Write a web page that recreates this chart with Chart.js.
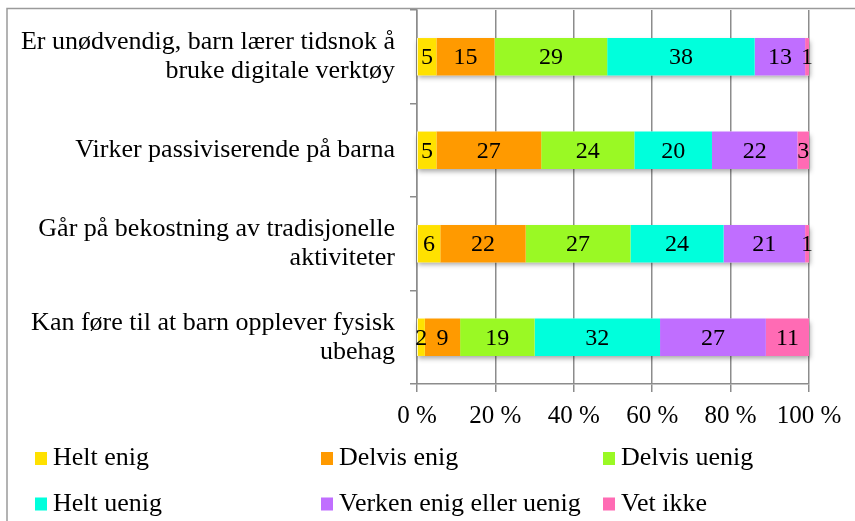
<!DOCTYPE html>
<html>
<head>
<meta charset="utf-8">
<script src="https://cdn.jsdelivr.net/npm/chart.js@4"></script>
<style>
html,body{margin:0;padding:0;background:#fff;}
#wrap{width:855px;height:521px;position:relative;}
</style>
</head>
<body>
<div id="wrap"><canvas id="c" width="855" height="521"></canvas></div>
<script>
const categories = [
  ['Er unødvendig, barn lærer tidsnok å', 'bruke digitale verktøy'],
  'Virker passiviserende på barna',
  ['Går på bekostning av tradisjonelle', 'aktiviteter'],
  ['Kan føre til at barn opplever fysisk', 'ubehag']
];
const seriesNames = ['Helt enig', 'Delvis enig', 'Delvis uenig', 'Helt uenig', 'Verken enig eller uenig', 'Vet ikke'];
const heltEnig    = [5, 5, 6, 2];
const delvisEnig  = [15, 27, 22, 9];
const delvisUenig = [29, 24, 27, 19];
const heltUenig   = [38, 20, 24, 32];
const verken      = [13, 22, 21, 27];
const vetIkke     = [1, 3, 1, 11];
const xTickLabels = ['0 %', '20 %', '40 %', '60 %', '80 %', '100 %'];

const seriesValues = [heltEnig, delvisEnig, delvisUenig, heltUenig, verken, vetIkke];
const colors = ['#FFE100', '#FF9A00', '#9AF924', '#00FFDC', '#C06EFF', '#FF6BB4'];
const FONT = "'Liberation Serif', 'Times New Roman', serif";
const GRID = '#8c8c8c';

const totals = categories.map((_, i) => seriesValues.reduce((s, arr) => s + arr[i], 0));

const datasets = seriesValues.map((arr, k) => ({
  label: seriesNames[k],
  data: arr.map((v, i) => v / totals[i] * 100),
  raw: arr,
  backgroundColor: colors[k],
  borderWidth: 0,
  barPercentage: 0.4,
  categoryPercentage: 1.0
}));

const framePlugin = {
  id: 'frame',
  beforeDraw(chart) {
    const ctx = chart.ctx;
    ctx.save();
    ctx.strokeStyle = '#9a9a9a';
    ctx.lineWidth = 1.5;
    ctx.beginPath();
    ctx.moveTo(7, 530);
    ctx.lineTo(7, 8.5);
    ctx.lineTo(870, 8.5);
    ctx.stroke();
    ctx.restore();
  }
};

const shadowPlugin = {
  id: 'barShadow',
  beforeDatasetsDraw(chart) {
    const ctx = chart.ctx;
    const xs = chart.scales.x;
    const meta0 = chart.getDatasetMeta(0);
    ctx.save();
    ctx.shadowColor = 'rgba(0,0,0,0.35)';
    ctx.shadowBlur = 5;
    ctx.shadowOffsetX = 1;
    ctx.shadowOffsetY = 3;
    ctx.fillStyle = '#ffffff';
    meta0.data.forEach(el => {
      const x0 = xs.getPixelForValue(0);
      const x1 = xs.getPixelForValue(100);
      ctx.fillRect(x0, el.y - el.height / 2, x1 - x0, el.height);
    });
    ctx.restore();
  }
};

const labelPlugin = {
  id: 'segLabels',
  afterDatasetsDraw(chart) {
    const ctx = chart.ctx;
    ctx.save();
    ctx.font = "24px " + FONT;
    ctx.fillStyle = '#000';
    ctx.textAlign = 'center';
    ctx.textBaseline = 'middle';
    chart.data.datasets.forEach((ds, k) => {
      const meta = chart.getDatasetMeta(k);
      meta.data.forEach((el, i) => {
        const cx = (el.x + el.base) / 2;
        ctx.fillText(String(ds.raw[i]), cx, el.y + 1);
      });
    });
    ctx.restore();
  }
};

const legendPlugin = {
  id: 'gridLegend',
  afterDraw(chart) {
    const ctx = chart.ctx;
    const colX = [35, 321, 603];
    const rowY = [458.5, 504];
    ctx.save();
    ctx.font = "26px " + FONT;
    ctx.textBaseline = 'middle';
    ctx.textAlign = 'left';
    chart.data.datasets.forEach((ds, k) => {
      const x = colX[k % 3];
      const y = rowY[Math.floor(k / 3)];
      ctx.fillStyle = ds.backgroundColor;
      ctx.fillRect(x, y - 6.5, 12, 13);
      ctx.fillStyle = '#000';
      ctx.fillText(ds.label, x + 18, y);
    });
    ctx.restore();
  }
};

new Chart(document.getElementById('c'), {
  type: 'bar',
  data: { labels: categories, datasets },
  plugins: [framePlugin, shadowPlugin, labelPlugin, legendPlugin],
  options: {
    indexAxis: 'y',
    responsive: false,
    animation: false,
    devicePixelRatio: 1,
    layout: { padding: { top: 10, right: 46, bottom: 37, left: 0 } },
    plugins: { legend: { display: false }, tooltip: { enabled: false } },
    scales: {
      x: {
        stacked: true,
        min: 0,
        max: 100,
        ticks: {
          stepSize: 20,
          callback: (v, i) => xTickLabels[i],
          font: { family: FONT, size: 25 },
          color: '#000',
          padding: 9,
          maxRotation: 0
        },
        grid: { color: GRID, lineWidth: 1.5, tickLength: 8, drawTicks: true },
        border: { color: GRID, width: 1.5 },
        afterFit: s => { s.height = 100; s.paddingLeft = 0; s.paddingRight = 0; }
      },
      y: {
        stacked: true,
        ticks: {
          font: { family: FONT, size: 26, lineHeight: 1.12 },
          color: '#000',
          padding: 15
        },
        grid: { drawOnChartArea: false, tickLength: 7, color: GRID, lineWidth: 1.5, offset: true },
        border: { color: GRID, width: 1.5 },
        afterFit: s => { s.width = 417; s.paddingTop = 0; s.paddingBottom = 0; }
      }
    }
  }
});
</script>
</body>
</html>
